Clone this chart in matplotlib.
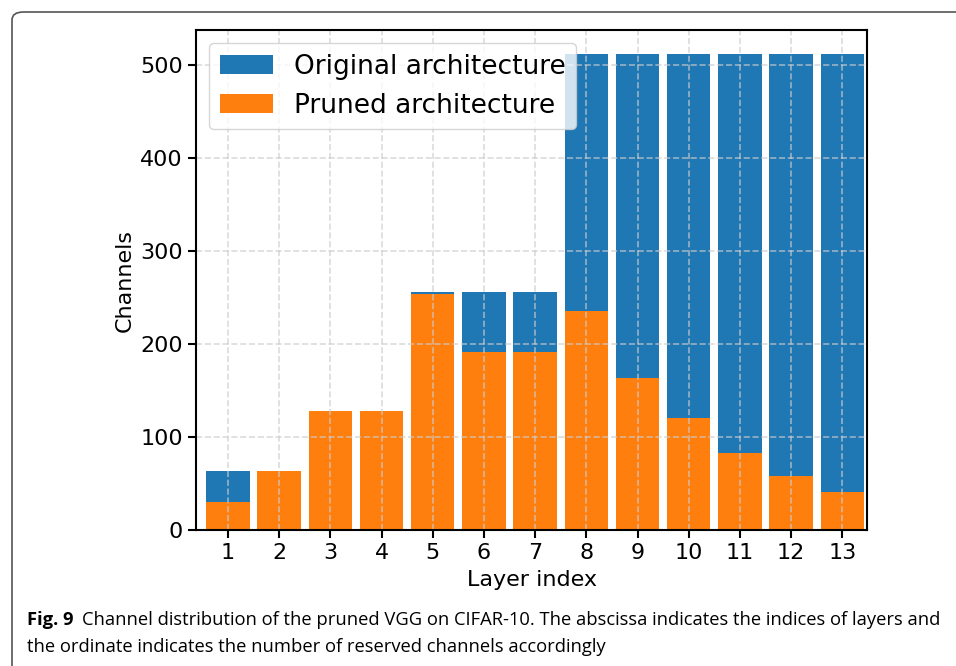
import numpy as np
import matplotlib.pyplot as plt
from matplotlib.patches import FancyBboxPatch

# 数据
layers = np.arange(1, 14)
original = [64, 64, 128, 128, 256, 256, 256, 512, 512, 512, 512, 512, 512]
pruned = [30, 64, 128, 128, 254, 192, 191, 236, 163, 120, 83, 58, 41]

fig = plt.figure(figsize=(9.56, 6.66), dpi=100)
ax = fig.add_axes([0.205, 0.204, 0.702, 0.751])

ax.bar(layers, original, width=0.85, color='#1f77b4', label='Original architecture')
ax.bar(layers, pruned, width=0.85, color='#ff7f0e', label='Pruned architecture')

ax.set_xlim(0.375, 13.485)
ax.set_xticks(layers)
ax.set_yticks([0, 100, 200, 300, 400, 500])
ax.tick_params(labelsize=16, width=1.5, length=6)
for s in ax.spines.values():
    s.set_linewidth(1.5)
ax.grid(True, linestyle='--', color='#cccccc', linewidth=1.2, alpha=0.7)
ax.set_xlabel('Layer index', fontsize=16, labelpad=5)
ax.set_ylabel('Channels', fontsize=16)
ax.legend(loc='upper left', fontsize=19, handlelength=2.0)

# 外框和图注
box = FancyBboxPatch((12 / 956, -0.05), 1.05, 1 - 12 / 666 + 0.05,
                     boxstyle='round,pad=0,rounding_size=0.012',
                     transform=fig.transFigure, fill=False,
                     edgecolor='#555555', linewidth=1.2)
fig.patches.append(box)

fig.text(27 / 956, 1 - 620 / 666, 'Fig. 9', fontsize=13.2, va='center',
         family='Open Sans', fontweight='bold')
fig.text(82 / 956, 1 - 620 / 666,
         'Channel distribution of the pruned VGG on CIFAR-10. The abscissa indicates the indices of layers and',
         fontsize=13.2, va='center', family='Open Sans')
fig.text(27 / 956, 1 - 647 / 666,
         'the ordinate indicates the number of reserved channels accordingly',
         fontsize=13.2, va='center', family='Open Sans')

fig.savefig('out.png', dpi=100)
